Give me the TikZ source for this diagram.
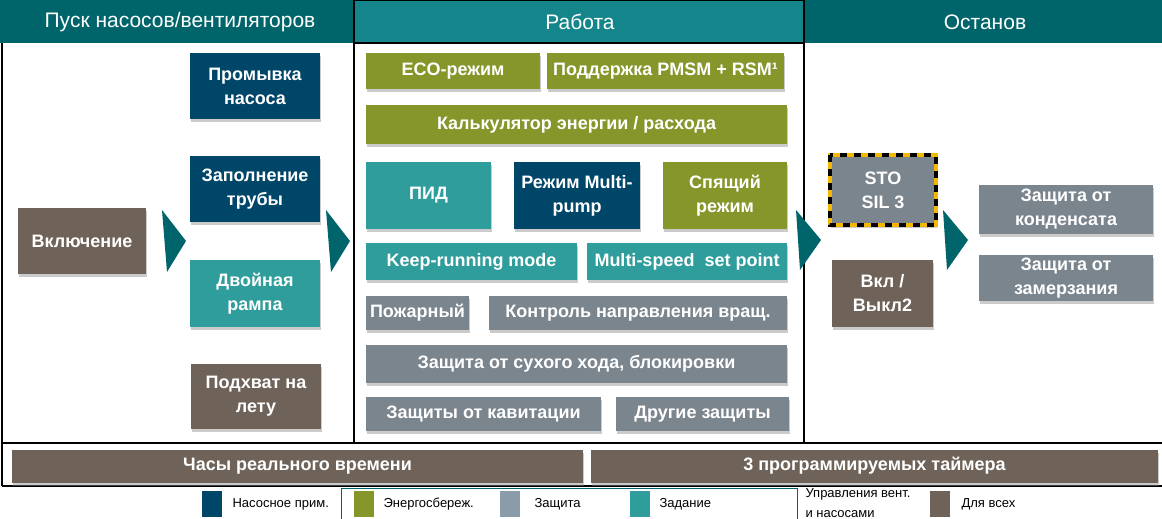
\documentclass[tikz,border=0pt]{standalone}
\usepackage{fontspec}
\setmainfont{Liberation Sans}
\usetikzlibrary{shadows}

\definecolor{headdark}{RGB}{0,101,106}
\definecolor{headmid}{RGB}{20,133,138}
\definecolor{pumpblue}{RGB}{0,70,105}
\definecolor{ecogreen}{RGB}{134,150,42}
\definecolor{protgray}{RGB}{122,133,142}
\definecolor{setteal}{RGB}{47,157,155}
\definecolor{allbrown}{RGB}{111,99,89}
\definecolor{legendgray}{RGB}{138,155,170}
\definecolor{stoyellow}{RGB}{245,184,0}

\tikzset{
    featbox/.style = {inner sep = 0pt, text = white, align = center,
        font = \fontsize{18}{24}\selectfont\bfseries,
        drop shadow = {shadow xshift = 0.5pt, shadow yshift = -3pt,
            fill = black!45, opacity = 0.45}},
    headtext/.style = {text = white, font = \fontsize{21}{24}\selectfont},
    legendsquare/.style = {inner sep = 0pt, minimum width = 20, minimum height = 26},
    legendtext/.style = {anchor = west, align = left, font = \fontsize{13}{20}\selectfont},
    chevron/.style = {fill = headdark},
    frameline/.style = {line width = 1.4pt},
}

\begin{document}
\begin{tikzpicture}[x = 1pt, y = -1pt]

        \useasboundingbox (0, 0) rectangle (1162, 519);

        % Header band of the three phases.
        \fill [headdark] (0, 0) rectangle (354, 43);
        \fill [headmid] (354, 0) rectangle (804, 43);
        \fill [headdark] (804, 0) rectangle (1162, 43);
        \node (hstart) at (180, 22) [headtext] {Пуск насосов/вентиляторов};
        \node (hrun) at (580, 22) [headtext] {Работа};
        \node (hstop) at (985, 22) [headtext] {Останов};

        % Frame lines.
        \draw [frameline] (354, 0) to (804, 0);
        \draw [frameline] (354, 43) to (804, 43);
        \draw [frameline] (354, 0) to (354, 443);
        \draw [frameline] (804, 0) to (804, 443);
        \draw [frameline] (2, 43) to (2, 486);
        \draw [frameline] (2, 443) to (1162, 443);
        \draw [frameline] (2, 486) to (1162, 486);

        % Start of pumps and fans.
        \node (on) at (82, 241) [featbox, fill = allbrown, minimum width = 128, minimum height = 66] {Включение};
        \node (wash) at (255, 86) [featbox, fill = pumpblue, minimum width = 130, minimum height = 66] {Промывка\\насоса};
        \node (fill) at (255, 189) [featbox, fill = pumpblue, minimum width = 130, minimum height = 66] {Заполнение\\трубы};
        \node (ramp) at (255, 293.5) [featbox, fill = setteal, minimum width = 130, minimum height = 67] {Двойная\\рампа};
        \node (catch) at (256, 396.5) [featbox, fill = allbrown, minimum width = 130, minimum height = 65] {Подхват на\\лету};

        % Arrows between the phases.
        \fill [chevron] (162, 210) -- (186, 241) -- (167, 272) -- cycle;
        \fill [chevron] (326, 210) -- (350, 241) -- (331, 272) -- cycle;
        \fill [chevron] (796, 210) -- (821, 240) -- (800, 270) -- cycle;
        \fill [chevron] (943, 210) -- (968, 240) -- (947, 270) -- cycle;

        % Operation.
        \node (eco) at (453, 71) [featbox, fill = ecogreen, minimum width = 174, minimum height = 36] {ECO-режим};
        \node (pmsm) at (665.5, 71) [featbox, fill = ecogreen, minimum width = 237, minimum height = 36] {Поддержка PMSM + RSM¹};
        \node (calc) at (576.5, 124.5) [featbox, fill = ecogreen, minimum width = 421, minimum height = 39] {Калькулятор энергии / расхода};
        \node (pid) at (428.5, 195.5) [featbox, fill = setteal, minimum width = 125, minimum height = 67] {ПИД};
        \node (multi) at (577, 195.5) [featbox, fill = pumpblue, minimum width = 126, minimum height = 67] {Режим Multi-\\pump};
        \node (sleep) at (725, 195.5) [featbox, fill = ecogreen, minimum width = 124, minimum height = 67] {Спящий\\режим};
        \node (keep) at (471.5, 261.5) [featbox, fill = setteal, minimum width = 211, minimum height = 37] {Keep-running mode};
        \node (speed) at (687, 261.5) [featbox, fill = setteal, minimum width = 200, minimum height = 37] {Multi-speed\ \ set point};
        \node (fire) at (417.5, 313) [featbox, fill = protgray, minimum width = 103, minimum height = 34] {Пожарный};
        \node (dir) at (638, 313) [featbox, fill = protgray, minimum width = 298, minimum height = 34] {Контроль направления вращ.};
        \node (dry) at (576.5, 364) [featbox, fill = protgray, minimum width = 421, minimum height = 38] {Защита от сухого хода, блокировки};
        \node (cav) at (483.5, 414) [featbox, fill = protgray, minimum width = 235, minimum height = 34] {Защиты от кавитации};
        \node (other) at (702.5, 414) [featbox, fill = protgray, minimum width = 173, minimum height = 34] {Другие защиты};

        % Stop.
        \node (sto) at (883, 190) [featbox, fill = protgray, minimum width = 106, minimum height = 70] {STO\\SIL 3};
        \draw [stoyellow, line width = 3.5pt] (sto.north west) rectangle (sto.south east);
        \draw [black, line width = 3.5pt, dash pattern = on 7pt off 7pt] (sto.north west) rectangle (sto.south east);
        \node (onoff) at (882.5, 293.5) [featbox, fill = allbrown, minimum width = 101, minimum height = 67] {Вкл /\\Выкл2};
        \node (cond) at (1066, 209.5) [featbox, fill = protgray, minimum width = 174, minimum height = 49] {Защита от\\конденсата};
        \node (frost) at (1066, 278) [featbox, fill = protgray, minimum width = 174, minimum height = 46] {Защита от\\замерзания};

        % Functions for all phases.
        \node (rtc) at (297.5, 466) [featbox, fill = allbrown, minimum width = 571, minimum height = 33] {Часы реального времени};
        \node (timers) at (874.5, 466) [featbox, fill = allbrown, minimum width = 567, minimum height = 33] {3 программируемых таймера};

        % Legend.
        \draw [headdark, line width = 1pt] (341, 522) to (341, 488) to (797, 488) to (797, 522);
        \node (lgpump) at (212, 504) [legendsquare, fill = pumpblue] {};
        \node (lgpumptext) at (229, 504) [legendtext] {Насосное прим.};
        \node (lgeco) at (364, 504) [legendsquare, fill = ecogreen] {};
        \node (lgecotext) at (380, 504) [legendtext] {Энергосбереж.};
        \node (lgprot) at (510, 504) [legendsquare, fill = legendgray] {};
        \node (lgprottext) at (531, 504) [legendtext] {Защита};
        \node (lgset) at (640, 504) [legendsquare, fill = setteal] {};
        \node (lgsettext) at (656, 504) [legendtext] {Задание};
        \node (lgctrl) at (802, 503) [legendtext] {Управления вент.\\и насосами};
        \node (lgall) at (940, 504) [legendsquare, fill = allbrown] {};
        \node (lgalltext) at (958, 504) [legendtext] {Для всех};
    \end{tikzpicture}
\end{document}
